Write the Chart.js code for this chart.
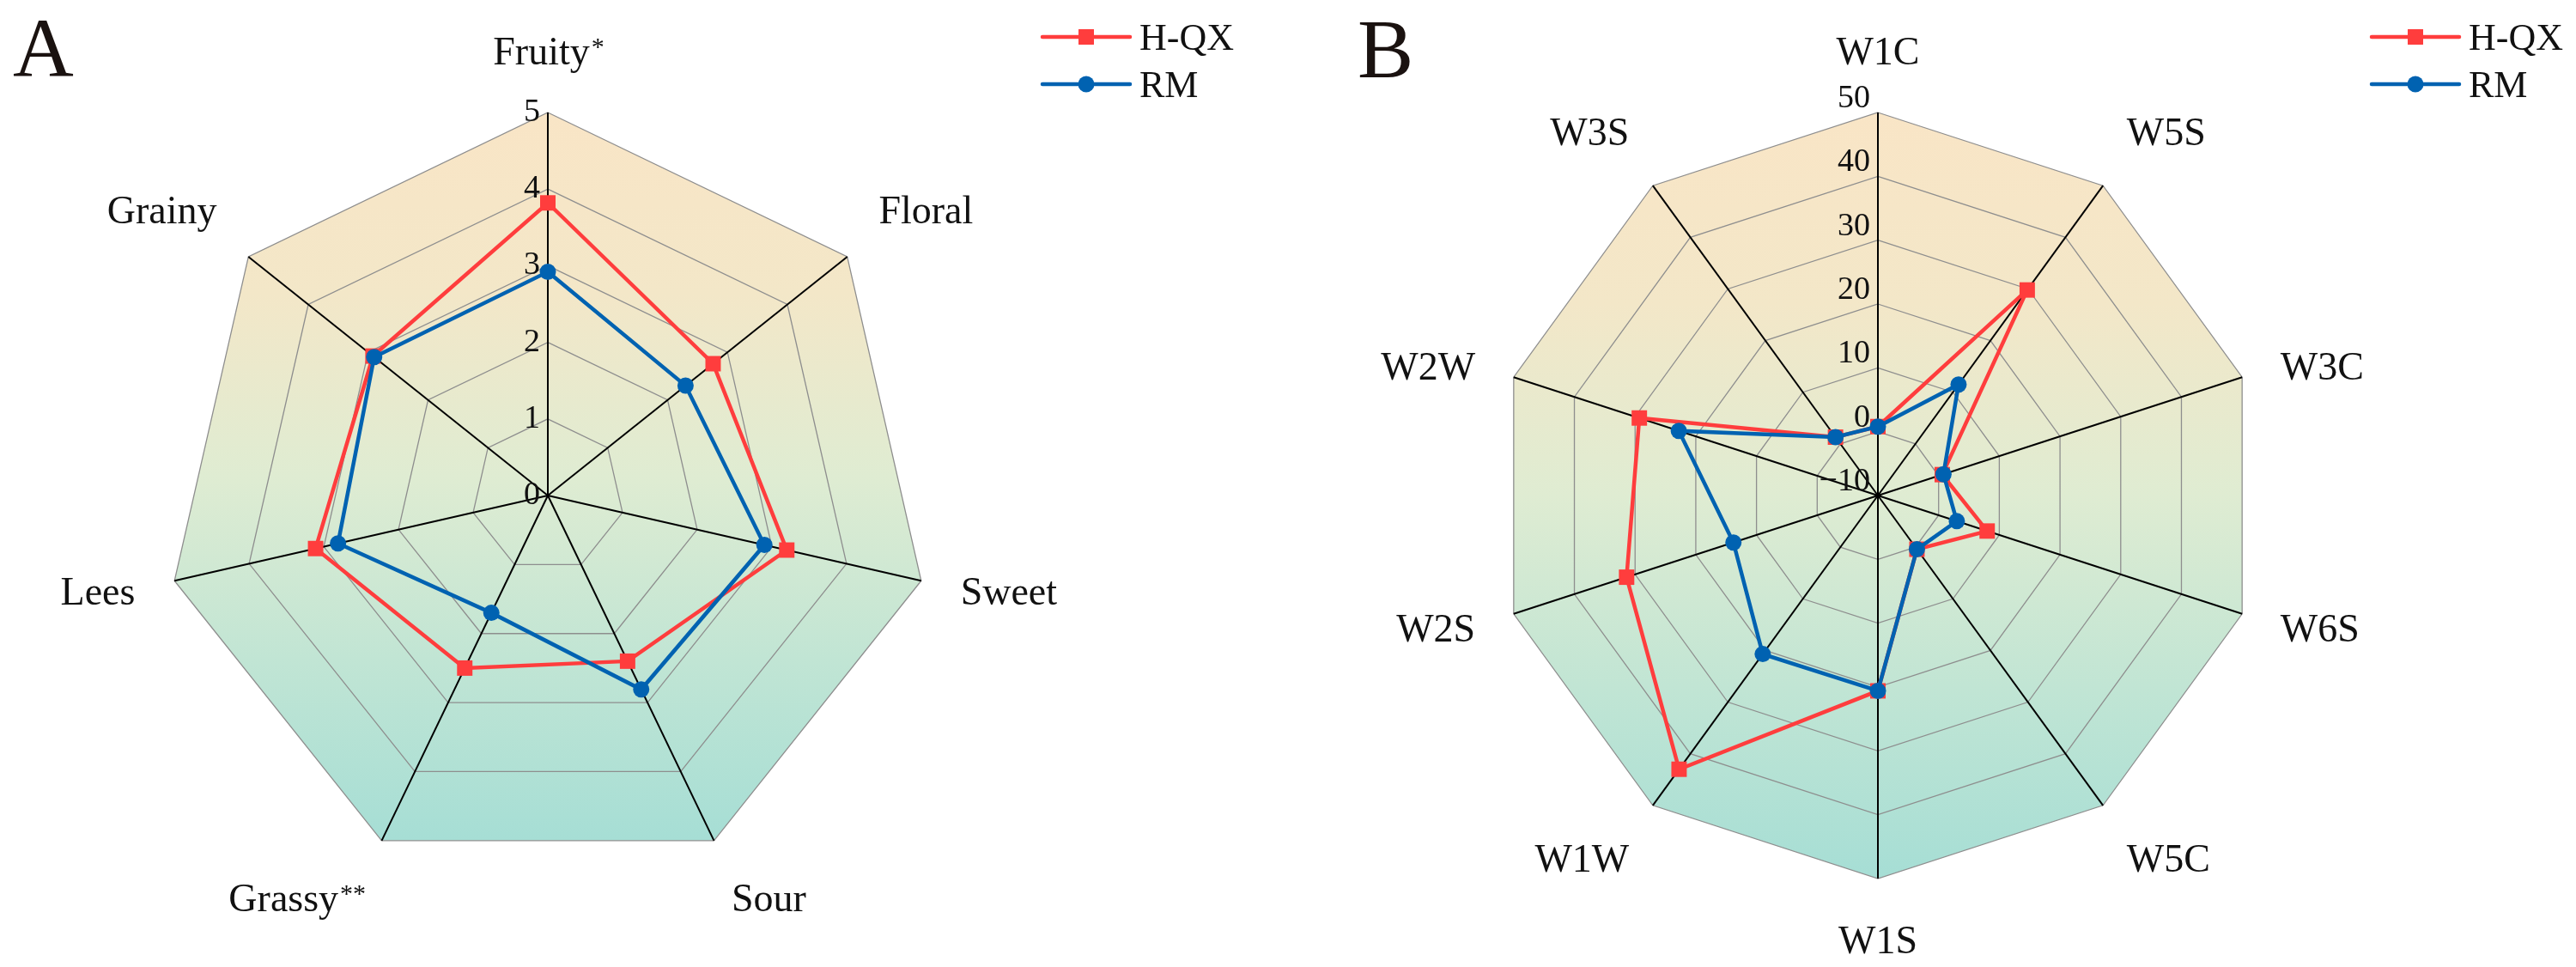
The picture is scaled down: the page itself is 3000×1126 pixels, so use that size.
<!DOCTYPE html>
<html>
<head>
<meta charset="utf-8">
<script src="https://cdn.jsdelivr.net/npm/chart.js@4/dist/chart.umd.min.js"></script>
<style>
  html, body { margin: 0; padding: 0; background: #ffffff; width: 3000px; height: 1126px; overflow: hidden; }
  canvas { position: absolute; top: 0; }
  #cA { left: 0; }
  #cB { left: 1500px; }
</style>
</head>
<body>
<canvas id="cA" width="1500" height="1126" style="width:1500px;height:1126px"></canvas>
<canvas id="cB" width="1500" height="1126" style="width:1500px;height:1126px"></canvas>
<script>
// ---------- data ----------
const seriesNames = ['H-QX', 'RM'];

const catsA  = ['Fruity', 'Floral', 'Sweet', 'Sour', 'Grassy', 'Lees', 'Grainy'];
const sigA   = ['*', '', '', '', '**', '', ''];
const hqxA   = [3.82, 2.76, 3.20, 2.40, 2.50, 3.11, 2.92];
const rmA    = [2.92, 2.30, 2.90, 2.81, 1.70, 2.81, 2.90];
const ticksA = [0, 1, 2, 3, 4, 5];

const catsB  = ['W1C', 'W5S', 'W3C', 'W6S', 'W5C', 'W1S', 'W1W', 'W2S', 'W2W', 'W3S'];
const sigB   = ['', '', '', '', '', '', '', '', '', ''];
const hqxB   = [0.8, 29.8, 0.6, 8.0, 0.4, 20.6, 43.0, 31.4, 29.3, 1.3];
const rmB    = [0.8, 11.5, 0.8, 3.0, 0.4, 20.6, 20.7, 13.8, 22.8, 1.3];
const ticksB = [-10, 0, 10, 20, 30, 40, 50];

// ---------- styling ----------
const RED = '#ff3d3d';
const BLUE = '#0062b1';
const SERIF = '"Liberation Serif", "Times New Roman", serif';
const gradStops = [[0, '#f9e5c6'], [0.25, '#f3e7c8'], [0.5, '#dfecd2'], [0.75, '#c1e5d4'], [1, '#a6ded5']];

const decor = {
  id: 'decor',
  beforeDraw(chart, args, o) {
    const s = chart.scales.r, ctx = chart.ctx;
    const n = chart.data.labels.length, R = s.drawingArea;
    const pts = [];
    for (let i = 0; i < n; i++) pts.push(s.getPointPosition(i, R));
    const ys = pts.map(p => p.y);
    const g = ctx.createLinearGradient(0, Math.min(...ys), 0, Math.max(...ys));
    gradStops.forEach(([p, c]) => g.addColorStop(p, c));
    ctx.save();
    ctx.beginPath();
    pts.forEach((p, i) => i ? ctx.lineTo(p.x, p.y) : ctx.moveTo(p.x, p.y));
    ctx.closePath();
    ctx.fillStyle = g;
    ctx.fill();
    ctx.restore();
  },
  beforeDatasetsDraw(chart, args, o) {
    const s = chart.scales.r, ctx = chart.ctx;
    ctx.save();
    ctx.font = o.tickSize + 'px ' + SERIF;
    ctx.fillStyle = '#111';
    ctx.textAlign = 'right';
    ctx.textBaseline = 'middle';
    s.ticks.forEach(t => {
      const d = s.getDistanceFromCenterForValue(t.value);
      const txt = String(t.value).replace('-', '\u2212');
      ctx.fillText(txt, s.xCenter - o.tickGap, s.yCenter - d + o.tickDy);
    });
    ctx.restore();
  },
  afterDraw(chart, args, o) {
    const s = chart.scales.r, ctx = chart.ctx;
    const n = chart.data.labels.length, R = s.drawingArea;
    const fs = o.labelSize, sup = Math.round(fs * 0.65);
    ctx.save();
    ctx.fillStyle = '#111';
    ctx.textBaseline = 'alphabetic';
    ctx.textAlign = 'left';
    for (let i = 0; i < n; i++) {
      const deg = s.getIndexAngle(i) * 180 / Math.PI;
      const p = s.getPointPosition(i, R + o.labelGap);
      const main = chart.data.labels[i], mark = o.marks[i] || '';
      ctx.font = fs + 'px ' + SERIF;
      const w1 = ctx.measureText(main).width;
      ctx.font = sup + 'px ' + SERIF;
      const w2 = mark ? ctx.measureText(mark).width : 0;
      const tot = w1 + w2;
      let x0;
      if (deg < 1 || deg > 359 || Math.abs(deg - 180) < 1) x0 = p.x - tot / 2;
      else if (deg < 180) x0 = p.x;
      else x0 = p.x - tot;
      let base;
      if ((deg > 60 && deg < 120) || (deg > 240 && deg < 300)) base = p.y + 0.38 * fs;
      else if (deg >= 120 && deg <= 240) base = p.y + 0.86 * fs;
      else base = p.y - 0.2 * fs;
      ctx.font = fs + 'px ' + SERIF;
      ctx.fillText(main, x0, base);
      if (mark) {
        ctx.font = sup + 'px ' + SERIF;
        ctx.fillText(mark, x0 + w1 + 2, base - 0.24 * fs);
      }
    }
    // legend
    const L = o.legend;
    seriesNames.forEach((name, k) => {
      const ds = chart.data.datasets.find(d => d.label === name);
      const y = L.y0 + k * L.dy;
      ctx.strokeStyle = ds.borderColor;
      ctx.lineWidth = ds.borderWidth;
      ctx.lineCap = 'round';
      ctx.beginPath();
      ctx.moveTo(L.x0, y);
      ctx.lineTo(L.x0 + L.len, y);
      ctx.stroke();
      ctx.fillStyle = ds.pointBackgroundColor;
      const cx = L.x0 + L.len / 2;
      ctx.beginPath();
      if (ds.pointStyle === 'rect') {
        const h = ds.pointRadius * Math.SQRT1_2;
        ctx.rect(cx - h, y - h, 2 * h, 2 * h);
      } else {
        ctx.arc(cx, y, ds.pointRadius, 0, Math.PI * 2);
      }
      ctx.fill();
      ctx.fillStyle = '#111';
      ctx.font = L.size + 'px ' + SERIF;
      ctx.textAlign = 'left';
      ctx.fillText(name, L.x0 + L.len + L.gap, y + 0.33 * L.size);
    });
    // panel letter
    ctx.fillStyle = '#1a1210';
    ctx.font = o.letterSize + 'px ' + SERIF;
    ctx.textAlign = 'left';
    ctx.fillText(o.letter, o.letterX, o.letterY);
    ctx.restore();
  }
};

function makeChart(id, cats, marks, hqx, rm, ticks, pad, extra) {
  const ctx = document.getElementById(id).getContext('2d');
  return new Chart(ctx, {
    type: 'radar',
    data: {
      labels: cats,
      datasets: [
        { label: seriesNames[0], data: hqx, borderColor: RED, backgroundColor: RED,
          pointBackgroundColor: RED, pointBorderColor: RED, pointBorderWidth: 0,
          pointStyle: 'rect', pointRadius: 12.7, borderWidth: 4.5, fill: false, tension: 0, order: 1 },
        { label: seriesNames[1], data: rm, borderColor: BLUE, backgroundColor: BLUE,
          pointBackgroundColor: BLUE, pointBorderColor: BLUE, pointBorderWidth: 0,
          pointStyle: 'circle', pointRadius: 9.5, borderWidth: 4.5, fill: false, tension: 0, order: 0 }
      ]
    },
    options: {
      responsive: false,
      devicePixelRatio: 1,
      animation: false,
      layout: { padding: pad },
      plugins: {
        legend: { display: false },
        tooltip: { enabled: false },
        decor: Object.assign({ marks: marks, labelSize: 46, labelGap: 47, tickSize: 38, tickGap: 9,
          legend: { x0: 0, y0: 43, dy: 55, len: 102, gap: 11, size: 44 }, letterSize: 98 }, extra)
      },
      scales: {
        r: {
          min: ticks[0],
          max: ticks[ticks.length - 1],
          ticks: { display: false, stepSize: ticks[1] - ticks[0] },
          pointLabels: { display: false },
          grid: { color: '#8e8e8e', lineWidth: 1.3 },
          angleLines: { color: '#000000', lineWidth: 2 }
        }
      }
    },
    plugins: [decor]
  });
}

makeChart('cA', catsA, sigA, hqxA, rmA, ticksA,
  { top: 131, bottom: 103, left: 138, right: 362 },
  { tickDy: 0, legend: { x0: 1214, y0: 43, dy: 55, len: 102, gap: 11, size: 44 }, letter: 'A', letterX: 15, letterY: 88 });

makeChart('cB', catsB, sigB, hqxB, rmB, ticksB,
  { top: 131, bottom: 103, left: 187, right: 313 },
  { tickDy: -16, legend: { x0: 1262, y0: 43, dy: 55, len: 102, gap: 11, size: 44 }, letter: 'B', letterX: 81, letterY: 90 });
</script>
</body>
</html>
